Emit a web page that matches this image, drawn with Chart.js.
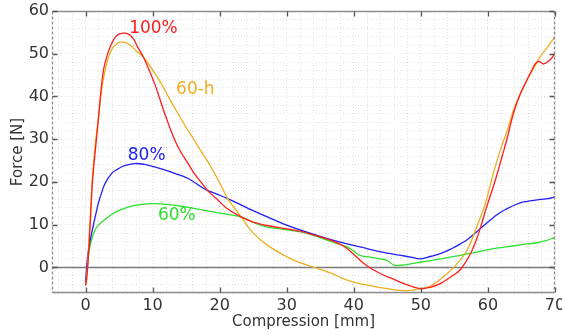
<!DOCTYPE html>
<html>
<head>
<meta charset="utf-8">
<script src="https://cdn.jsdelivr.net/npm/chart.js@4/dist/chart.umd.min.js"></script>
<style>
  html, body { margin: 0; padding: 0; background: #fff; }
  #wrap { width: 562px; height: 335px; }
</style>
</head>
<body>
<div id="wrap"><canvas id="forceChart" width="562" height="335"></canvas></div>
<script>
// ================================================================
//  DATOS
// ================================================================
const xRojo = [0, 0.15, 0.4, 0.65, 0.9, 1.05, 1.5, 1.9, 2.6, 3.2, 3.9, 4.7, 5.6, 6.4, 7.1, 7.8, 8.6, 9.4, 10.3, 11.0, 11.8, 12.5, 13.3, 14.2, 15.3, 16.2, 17.2, 18.2, 19.5, 21, 23.2, 25, 27.1, 30, 32.1, 34, 36.1, 38, 39, 40.5, 42, 44, 46, 47.5, 49.9, 51.5, 52.9, 54.5, 55.9, 57.4, 58.6, 59.8, 61.1, 62.1, 62.8, 63.8, 64.8, 65.8, 66.5, 67, 67.5, 67.8, 68.2, 68.6, 69.3, 70];
const yRojo = [-4.2, -3, 2, 8.7, 16.5, 20.4, 28, 34.4, 45.4, 49.5, 52.4, 54.3, 54.8, 54.6, 53.6, 51.5, 49.3, 46.5, 43, 39.8, 36, 33, 29.8, 27, 24.3, 22, 20, 18, 16.1, 13.9, 11.8, 10.6, 9.8, 9, 8.4, 7.6, 6.6, 5.4, 4.4, 2.3, 0.3, -1.5, -2.8, -3.8, -5, -4.6, -3.8, -2.2, -0.5, 3.2, 7.9, 14.1, 20.4, 25.9, 29.8, 36, 40.5, 43.8, 46, 47.5, 48.2, 48.1, 47.6, 47.8, 48.6, 50];

const xNaranja = [0, 0.15, 0.4, 0.6, 0.85, 1.0, 1.4, 1.8, 2.5, 3.2, 3.9, 4.6, 5.3, 6.0, 6.8, 7.6, 8.6, 10, 11.3, 12.5, 13.8, 15, 16.2, 17.5, 18.7, 20, 21.2, 22.2, 23.2, 25, 27.1, 30.1, 32, 34.1, 36.5, 39, 41.5, 43.5, 45.5, 47, 48.5, 50, 51.5, 52.9, 54.9, 56.9, 58.3, 59.6, 60.8, 62, 63, 63.8, 64.8, 65.8, 66.8, 67.8, 69, 70];
const yNaranja = [-4.2, -2.5, 3, 9, 16, 20.5, 28, 33.5, 42.5, 48, 51, 52.3, 52.7, 52.6, 51.8, 50.6, 49.3, 46.2, 43, 39.5, 36, 32.8, 29.8, 26.5, 23.5, 19.8, 16.1, 13.9, 11.8, 8, 5.2, 2.4, 1.1, 0, -1.3, -3, -4, -4.6, -5.1, -5.4, -5.4, -5, -4.3, -2.8, 0, 4, 9.4, 14.9, 22, 28.2, 32.5, 36.8, 40.5, 43.8, 46.5, 49.3, 51.8, 54];

const xAzul = [0, 0.3, 0.6, 0.9, 1.4, 1.9, 2.4, 2.9, 3.9, 4.8, 5.8, 7.3, 8.8, 10.3, 11.8, 13.3, 15.3, 17.7, 19.5, 21.2, 24, 27.1, 29.5, 32.1, 34.5, 37, 39.5, 42, 44, 45.5, 47, 48.5, 49.9, 51.5, 52.9, 54.5, 55.9, 57, 58.3, 59.3, 60.3, 61.5, 62.8, 64, 65.3, 66.5, 67.8, 69, 70];
const yAzul = [-3.5, 2.4, 5.5, 7.9, 11.5, 14.9, 17.5, 19.6, 22, 23, 23.8, 24.3, 24.1, 23.5, 22.8, 22, 20.8, 18.4, 17.2, 16.1, 14, 11.8, 10.2, 8.7, 7.5, 6.3, 5.3, 4.4, 3.6, 3.2, 2.8, 2.4, 2, 2.6, 3.2, 4.3, 5.5, 6.6, 8.3, 9.7, 11, 12.5, 13.7, 14.6, 15.3, 15.6, 15.9, 16.1, 16.5];

const xVerde = [0, 0.2, 0.4, 0.65, 1, 1.4, 2, 2.9, 4, 5.3, 7.3, 8.8, 10.3, 12.3, 14.3, 15.8, 17.2, 20, 23.2, 25, 27.1, 29.5, 32.1, 34, 36.1, 37.5, 39, 40, 40.9, 42.5, 43.9, 45, 46, 47, 48.5, 49.9, 52.9, 55.9, 57.8, 60.8, 62.8, 65.8, 67.2, 68.5, 70];
const yVerde = [-4.2, -1, 2.2, 4.8, 7, 8.7, 10, 11.2, 12.5, 13.5, 14.5, 14.8, 14.9, 14.7, 14.3, 13.9, 13.5, 12.7, 11.8, 10.5, 9.4, 8.9, 8.3, 7.5, 6.3, 5.6, 4.8, 3.8, 2.8, 2.4, 2, 1.6, 0.5, 0.5, 0.8, 1.2, 2, 2.8, 3.4, 4.4, 4.8, 5.5, 5.7, 6.2, 7];

// etiquetas de las curvas: texto y posición (coordenadas de datos)
const etiquetas = ['100%', '60-h', '80%', '60%'];
const etiquetaX = [6.5, 13.5, 6.3, 10.8];
const etiquetaY = [55.8, 41.7, 26.2, 12.2];
const coloresSerie = ['#ff1c1c', '#ecaf1e', '#2020f4', '#2ee02e'];

const ticksX = [-4, -2, 0, 2, 4, 6, 8, 10, 12, 14, 16, 18, 20, 22, 24, 26, 28, 30, 32, 34, 36, 38, 40, 42, 44, 46, 48, 50, 52, 54, 56, 58, 60, 62, 64, 66, 68, 70];

const FUENTE = '"DejaVu Sans", Verdana, sans-serif';

function puntos(xs, ys) {
    return xs.map((x, i) => ({ x: x, y: ys[i] }));
}

function serie(xs, ys, color) {
    return {
        data: puntos(xs, ys),
        borderColor: color,
        borderWidth: 1.3,
        pointRadius: 0,
        fill: false,
        tension: 0.4
    };
}

// ================================================================
//  PLUGIN: marco, marcas de ejes, línea cero y etiquetas
// ================================================================
const marcoPlugin = {
    id: 'marco',
    beforeDatasetsDraw(chart) {
        const { ctx, chartArea: a, scales: { y } } = chart;
        const y0 = Math.round(y.getPixelForValue(0)) + 0.5;
        ctx.save();
        ctx.strokeStyle = '#7a7a7a';
        ctx.lineWidth = 1.5;
        ctx.beginPath();
        ctx.moveTo(a.left, y0);
        ctx.lineTo(a.right, y0);
        ctx.stroke();
        ctx.restore();
    },
    afterDatasetsDraw(chart) {
        const { ctx, scales: { x, y } } = chart;
        ctx.save();
        ctx.font = '17px ' + FUENTE;
        ctx.textBaseline = 'middle';
        ctx.textAlign = 'left';
        etiquetas.forEach((t, i) => {
            ctx.fillStyle = coloresSerie[i];
            ctx.fillText(t, x.getPixelForValue(etiquetaX[i]), y.getPixelForValue(etiquetaY[i]));
        });
        ctx.restore();
    },
    afterDraw(chart) {
        const { ctx, chartArea: a, scales: { x, y } } = chart;
        const L = Math.round(a.left) + 0.5, R = Math.round(a.right) - 0.5;
        const T = Math.round(a.top) + 0.5, B = Math.round(a.bottom) - 0.5;
        ctx.save();
        ctx.lineWidth = 1.3;
        ctx.strokeStyle = '#8c8c8c';
        // arriba y abajo: sólidos
        ctx.beginPath();
        ctx.moveTo(L, T); ctx.lineTo(R, T);
        ctx.moveTo(L, B); ctx.lineTo(R, B);
        ctx.stroke();
        // izquierda y derecha: discontinuos
        ctx.setLineDash([3, 2]);
        ctx.beginPath();
        ctx.moveTo(L, T); ctx.lineTo(L, B);
        ctx.moveTo(R, T); ctx.lineTo(R, B);
        ctx.stroke();
        ctx.setLineDash([]);
        // marcas mayores hacia dentro
        ctx.strokeStyle = '#555';
        ctx.lineWidth = 1.3;
        ctx.beginPath();
        for (let v = 0; v <= 70; v += 10) {
            const px = Math.round(x.getPixelForValue(v)) + 0.5;
            ctx.moveTo(px, B); ctx.lineTo(px, B - 5);
            ctx.moveTo(px, T); ctx.lineTo(px, T + 5);
        }
        for (let v = 0; v <= 60; v += 10) {
            const py = Math.round(y.getPixelForValue(v)) + 0.5;
            ctx.moveTo(L, py); ctx.lineTo(L + 5, py);
            ctx.moveTo(R, py); ctx.lineTo(R - 5, py);
        }
        ctx.stroke();
        ctx.restore();
    }
};

// ================================================================
//  GRÁFICO
// ================================================================
const ctx = document.getElementById('forceChart').getContext('2d');
const forceChart = new Chart(ctx, {
    type: 'line',
    data: {
        datasets: [
            serie(xRojo, yRojo, coloresSerie[0]),
            serie(xNaranja, yNaranja, coloresSerie[1]),
            serie(xAzul, yAzul, coloresSerie[2]),
            serie(xVerde, yVerde, coloresSerie[3])
        ]
    },
    options: {
        responsive: false,
        animation: false,
        devicePixelRatio: 1,
        layout: { padding: { left: 0, right: 7, top: 11, bottom: 0 } },
        plugins: {
            legend: { display: false },
            tooltip: { enabled: false }
        },
        scales: {
            x: {
                type: 'linear',
                min: -5,
                max: 70,
                afterBuildTicks: (s) => { s.ticks = ticksX.map(v => ({ value: v })); },
                afterFit: (s) => { s.height = 42; s.paddingLeft = 0; s.paddingRight = 0; },
                grid: { color: '#e2e2e2', lineWidth: 1, drawTicks: false },
                border: { display: false, dash: [1, 2] },
                ticks: {
                    autoSkip: false,
                    maxRotation: 0,
                    padding: 3,
                    color: '#333',
                    font: { family: FUENTE, size: 16 },
                    callback: (v) => (v % 10 === 0 ? String(v) : '')
                },
                title: {
                    display: true,
                    text: 'Compression [mm]',
                    color: '#333',
                    font: { family: FUENTE, size: 15 },
                    padding: { top: 0, bottom: 4 }
                }
            },
            y: {
                type: 'linear',
                min: -6,
                max: 60,
                afterFit: (s) => { s.width = 52; s.paddingTop = 0; s.paddingBottom = 0; },
                grid: { color: '#e2e2e2', lineWidth: 1, drawTicks: false },
                border: { display: false, dash: [1, 2] },
                ticks: {
                    stepSize: 2,
                    autoSkip: false,
                    padding: 3,
                    color: '#333',
                    font: { family: FUENTE, size: 16 },
                    callback: (v) => (v % 10 === 0 ? String(v) : '')
                },
                title: {
                    display: true,
                    text: 'Force [N]',
                    color: '#333',
                    font: { family: FUENTE, size: 15 },
                    padding: { top: 9, bottom: 0 }
                }
            }
        }
    },
    plugins: [marcoPlugin]
});
</script>
</body>
</html>
